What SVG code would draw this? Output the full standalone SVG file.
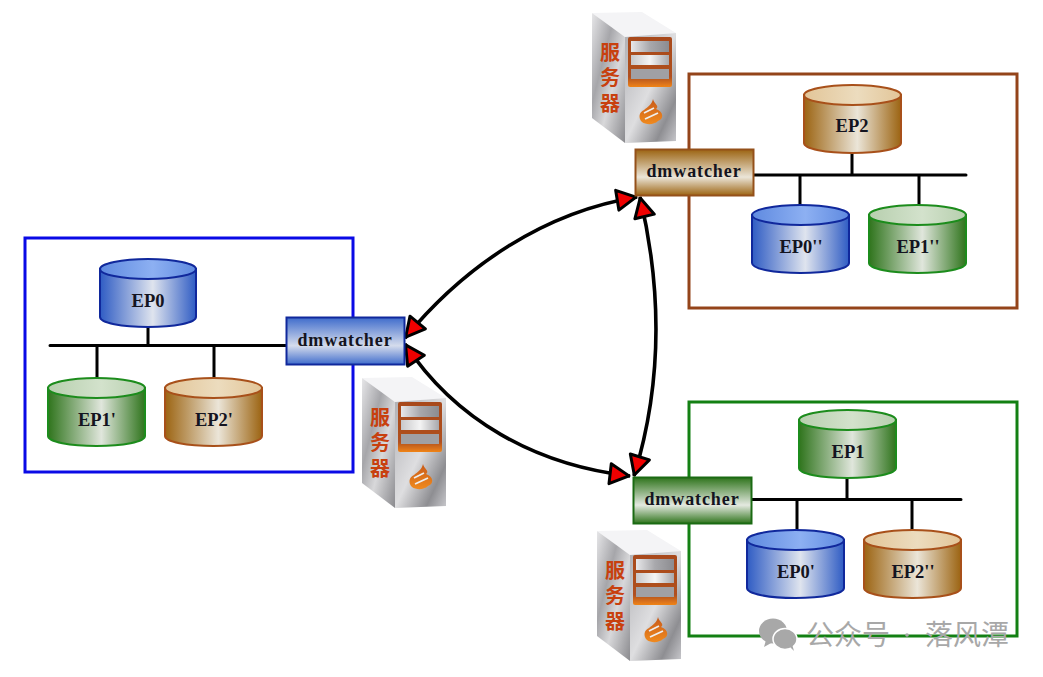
<svg xmlns="http://www.w3.org/2000/svg" width="1043" height="677" viewBox="0 0 1043 677">
<style>
.lbl{font-family:"Liberation Serif","Noto Serif",serif;font-weight:700;font-size:18.5px;fill:#141420;text-anchor:middle}
.dw{font-family:"Liberation Serif",serif;font-weight:700;font-size:18px;letter-spacing:.9px;fill:#141420;text-anchor:middle}
.bus{stroke:#000;stroke-width:3;fill:none;stroke-linecap:round}
.frame{fill:none;stroke-width:3}
.arc{stroke:#000;stroke-width:3.6;fill:none;marker-start:url(#tri);marker-end:url(#tri)}
.srv{font-family:"Noto Sans CJK SC",sans-serif;font-weight:700;font-size:20px;fill:#c8400e;text-anchor:middle}
.wm{font-family:"Noto Sans CJK SC","Noto Sans",sans-serif;font-size:28px;fill:#a8a8a8}
</style>
<defs>
<marker id="tri" markerUnits="userSpaceOnUse" markerWidth="28" markerHeight="28" refX="23" refY="14" orient="auto-start-reverse" viewBox="0 0 28 28"><path d="M3 4 L22 14 L3 24 Z" fill="#f00000" stroke="#000" stroke-width="3" stroke-linejoin="round"/></marker>
<linearGradient id="bB"><stop offset="0" stop-color="#2f5cc4"/><stop offset=".55" stop-color="#dfe4ee"/><stop offset="1" stop-color="#2f5cc4"/></linearGradient>
<linearGradient id="gB"><stop offset="0" stop-color="#2f741c"/><stop offset=".55" stop-color="#e0e6dc"/><stop offset="1" stop-color="#2f741c"/></linearGradient>
<linearGradient id="oB"><stop offset="0" stop-color="#9c6412"/><stop offset=".55" stop-color="#ebe5d8"/><stop offset="1" stop-color="#9c6412"/></linearGradient>
<linearGradient id="bT"><stop offset="0" stop-color="#5f8ae0"/><stop offset=".55" stop-color="#8db0f2"/><stop offset="1" stop-color="#5f8ae0"/></linearGradient>
<linearGradient id="gT"><stop offset="0" stop-color="#b7cfae"/><stop offset=".55" stop-color="#d3e2cc"/><stop offset="1" stop-color="#b7cfae"/></linearGradient>
<linearGradient id="oT"><stop offset="0" stop-color="#e2c598"/><stop offset=".55" stop-color="#ecdcbe"/><stop offset="1" stop-color="#e2c598"/></linearGradient>
<linearGradient id="bV" x1="0" y1="0" x2="0" y2="1"><stop offset="0" stop-color="#3f6ccc"/><stop offset=".6" stop-color="#d5dcec"/><stop offset="1" stop-color="#3f6ccc"/></linearGradient>
<linearGradient id="gV" x1="0" y1="0" x2="0" y2="1"><stop offset="0" stop-color="#2f741c"/><stop offset=".6" stop-color="#e4e9e0"/><stop offset="1" stop-color="#2f741c"/></linearGradient>
<linearGradient id="oV" x1="0" y1="0" x2="0" y2="1"><stop offset="0" stop-color="#9c6412"/><stop offset=".6" stop-color="#ebe5d8"/><stop offset="1" stop-color="#9c6412"/></linearGradient>
<linearGradient id="mL" x1="0" y1="0" x2="1" y2="1"><stop offset="0" stop-color="#e6e6e8"/><stop offset=".35" stop-color="#a6a6aa"/><stop offset=".6" stop-color="#d8d8da"/><stop offset="1" stop-color="#8a8a8e"/></linearGradient>
<linearGradient id="mF" x1="0" y1="0" x2="1" y2="1"><stop offset="0" stop-color="#b0b0b4"/><stop offset=".5" stop-color="#dedee0"/><stop offset=".8" stop-color="#8e8e92"/><stop offset="1" stop-color="#c8c8cc"/></linearGradient>
<linearGradient id="pan" x1="0" y1="0" x2="0" y2="1"><stop offset="0" stop-color="#a84a1c"/><stop offset=".8" stop-color="#b05020"/><stop offset="1" stop-color="#f08418"/></linearGradient>
<linearGradient id="slot"><stop offset="0" stop-color="#e8e8ea"/><stop offset=".5" stop-color="#a8a8ac"/><stop offset="1" stop-color="#8c8c90"/></linearGradient>
<linearGradient id="slot2"><stop offset="0" stop-color="#c8c8ca"/><stop offset=".5" stop-color="#f4f4f4"/><stop offset="1" stop-color="#a8a8ac"/></linearGradient>
<linearGradient id="fl" x1="0" y1="0" x2="0" y2="1"><stop offset="0" stop-color="#c85a18"/><stop offset="1" stop-color="#f08a20"/></linearGradient>
<filter id="soft" x="-5%" y="-5%" width="110%" height="110%"><feGaussianBlur stdDeviation=".5"/></filter>
<g id="server">
<g filter="url(#soft)">
<polygon points="592,13 642,12 676,33 625,37" fill="#f4f4f6"/>
<polygon points="592,13 625,37 625,143 592,118" fill="url(#mL)"/>
<polygon points="625,37 676,33 676,141 625,143" fill="url(#mF)"/>
<rect x="628" y="37" width="44" height="50" rx="2" fill="url(#pan)"/>
<rect x="631" y="41" width="38" height="11" fill="url(#slot)"/>
<rect x="631" y="55" width="38" height="10" fill="url(#slot2)"/>
<rect x="631" y="69" width="38" height="10" fill="#a0a0a4"/>
<path d="M653 99 C654 104 660 106 656 109 C664 112 664 119 658 121 C654 125 646 125 642 122 C638 118 639 112 644 110 C648 107 652 104 653 99Z" fill="url(#fl)"/>
<path d="M644 113 L654 108 M645 119 L658 113" stroke="#eee" stroke-width="1.8" fill="none"/>
</g>
<text class="srv" x="610" y="60">服</text>
<text class="srv" x="610" y="85">务</text>
<text class="srv" x="610" y="111">器</text>
</g>
</defs>
<rect width="1043" height="677" fill="#fff"/>

<g id="frames">
<rect class="frame" x="25" y="238" width="328" height="234" stroke="#0a0ae6"/>
<rect class="frame" x="689" y="74" width="328" height="234" stroke="#94441a"/>
<rect class="frame" x="689" y="402" width="328" height="234" stroke="#138013"/>
</g>

<g id="connectors">
<path class="bus" d="M50 345.500H286M97 345.500V378M148 327V345.500M214 345.500V378"/>
<path class="bus" d="M753 175H966M852 153V175M800 175V205M919 175V205"/>
<path class="bus" d="M751 499.500H961M847 478V499.500M797 499.500V530M912 499.500V530"/>
<path class="arc" d="M405 338C465 265 545 212 637 197"/>
<path class="arc" d="M405 344C455 420 535 465 630 476"/>
<path class="arc" d="M640 197C662 290 662 385 634 476"/>
</g>

<g id="srv-top"><use href="#server"/></g>
<g id="srv-left"><use href="#server" x="-230" y="365"/></g>
<g id="srv-bottom"><use href="#server" x="5" y="518"/></g>

<g id="dw-blue"><rect x="286.500" y="317.500" width="118" height="47" fill="url(#bV)" stroke="#10289c" stroke-width="2"/><text class="dw" x="345" y="346">dmwatcher</text></g>
<g id="dw-brown"><rect x="635.500" y="149.500" width="118" height="46" fill="url(#oV)" stroke="#94501a" stroke-width="2"/><text class="dw" x="694" y="177">dmwatcher</text></g>
<g id="dw-green"><rect x="633.500" y="477.500" width="118" height="46" fill="url(#gV)" stroke="#1a6a12" stroke-width="2"/><text class="dw" x="692" y="505">dmwatcher</text></g>

<g id="ep0"><path d="M100 269V317C100 323 122 327 148 327S196 323 196 317V269Z" fill="url(#bB)" stroke="#10289c" stroke-width="2"/><ellipse cx="148" cy="269" rx="48" ry="10" fill="url(#bT)" stroke="#10289c" stroke-width="2"/><text class="lbl" x="148" y="307">EP0</text></g>
<g id="ep1p"><path d="M48 388V436C48 442 70 446 96.500 446S145 442 145 436V388Z" fill="url(#gB)" stroke="#1c8c1c" stroke-width="2"/><ellipse cx="96.500" cy="388" rx="48.500" ry="10" fill="url(#gT)" stroke="#1c8c1c" stroke-width="2"/><text class="lbl" x="97" y="426">EP1'</text></g>
<g id="ep2p"><path d="M165 388V436C165 442 187 446 213.500 446S262 442 262 436V388Z" fill="url(#oB)" stroke="#a8501a" stroke-width="2"/><ellipse cx="213.500" cy="388" rx="48.500" ry="10" fill="url(#oT)" stroke="#a8501a" stroke-width="2"/><text class="lbl" x="214" y="426">EP2'</text></g>

<g id="ep2"><path d="M804 95V143C804 149 826 153 852.500 153S901 149 901 143V95Z" fill="url(#oB)" stroke="#a8501a" stroke-width="2"/><ellipse cx="852.500" cy="95" rx="48.500" ry="10" fill="url(#oT)" stroke="#a8501a" stroke-width="2"/><text class="lbl" x="852" y="132">EP2</text></g>
<g id="ep0pp"><path d="M752 215V263C752 269 774 273 800.500 273S849 269 849 263V215Z" fill="url(#bB)" stroke="#10289c" stroke-width="2"/><ellipse cx="800.500" cy="215" rx="48.500" ry="10" fill="url(#bT)" stroke="#10289c" stroke-width="2"/><text class="lbl" x="801" y="253">EP0''</text></g>
<g id="ep1pp"><path d="M869 215V263C869 269 891 273 917.500 273S966 269 966 263V215Z" fill="url(#gB)" stroke="#1c8c1c" stroke-width="2"/><ellipse cx="917.500" cy="215" rx="48.500" ry="10" fill="url(#gT)" stroke="#1c8c1c" stroke-width="2"/><text class="lbl" x="918" y="253">EP1''</text></g>

<g id="ep1"><path d="M799 420V468C799 474 821 478 847.500 478S896 474 896 468V420Z" fill="url(#gB)" stroke="#1c8c1c" stroke-width="2"/><ellipse cx="847.500" cy="420" rx="48.500" ry="10" fill="url(#gT)" stroke="#1c8c1c" stroke-width="2"/><text class="lbl" x="848" y="458">EP1</text></g>
<g id="ep0p"><path d="M747 540V588C747 594 769 598 795.500 598S844 594 844 588V540Z" fill="url(#bB)" stroke="#10289c" stroke-width="2"/><ellipse cx="795.500" cy="540" rx="48.500" ry="10" fill="url(#bT)" stroke="#10289c" stroke-width="2"/><text class="lbl" x="796" y="578">EP0'</text></g>
<g id="ep2pp"><path d="M864 540V588C864 594 886 598 912.500 598S961 594 961 588V540Z" fill="url(#oB)" stroke="#a8501a" stroke-width="2"/><ellipse cx="912.500" cy="540" rx="48.500" ry="10" fill="url(#oT)" stroke="#a8501a" stroke-width="2"/><text class="lbl" x="913" y="578">EP2''</text></g>

<g id="watermark">
<ellipse cx="773" cy="631" rx="14" ry="12.500" fill="#a8a8a8"/>
<path d="M766 640L764 647L773 642Z" fill="#a8a8a8"/>
<ellipse cx="785" cy="639" rx="12" ry="10.500" fill="#a8a8a8" stroke="#fff" stroke-width="1.500"/>
<path d="M790 647L794 651L792 644Z" fill="#a8a8a8"/>
<text class="wm" x="806" y="645">公众号</text>
<circle cx="907" cy="635" r="1.800" fill="#a8a8a8"/>
<text class="wm" x="925" y="645">落风潭</text>
</g>
</svg>
